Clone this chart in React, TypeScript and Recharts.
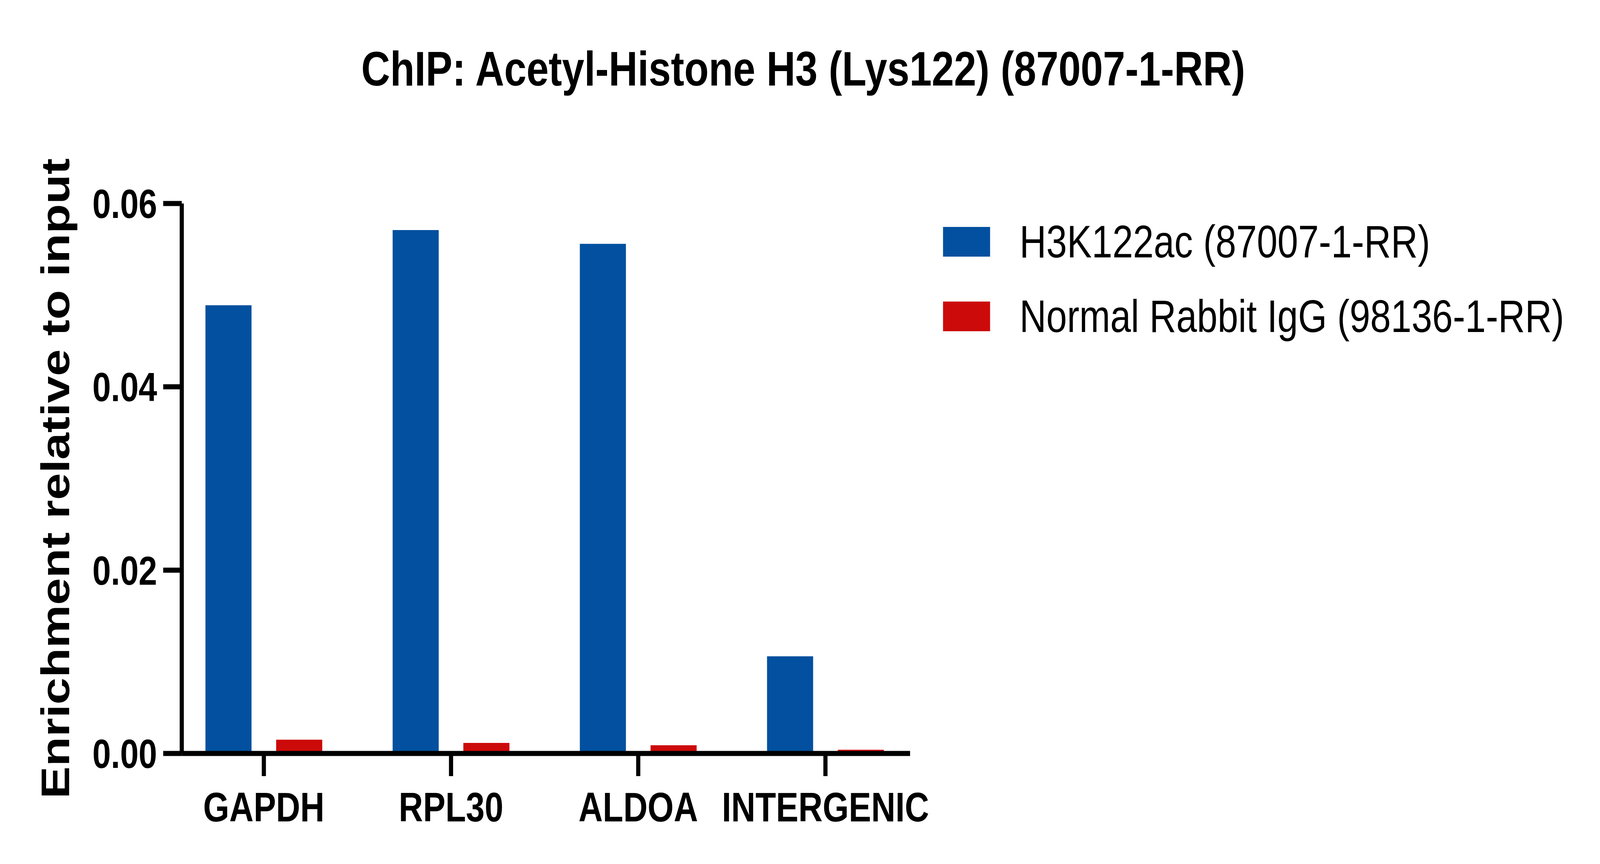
import React from 'react'
import { BarChart, Bar, XAxis, YAxis, Legend } from 'recharts'

const categories = ['GAPDH', 'RPL30', 'ALDOA', 'INTERGENIC']
const h3k122ac = [0.0489, 0.0571, 0.0556, 0.0106]
const normalIgg = [0.0015, 0.00115, 0.0009, 0.0004]
const yTicks = [0, 0.02, 0.04, 0.06]

const seriesNames = ['H3K122ac (87007-1-RR)', 'Normal Rabbit IgG (98136-1-RR)']
const BLUE = '#02509F'
const RED = '#CC0A0A'
const FONT = '"Liberation Sans", Arial, sans-serif'

const W = 5000
const H = 2212

const data = categories.map((c, i) => ({ name: c, a: h3k122ac[i], b: normalIgg[i] }))

const renderLegend = (props: any) => {
  const { payload } = props
  return (
    <div style={{ fontFamily: FONT }}>
      {payload.map((p: any) => (
        <div key={p.value} style={{ display: 'flex', alignItems: 'center', height: 191 }}>
          <span style={{ width: 147, height: 76, background: p.color, display: 'inline-block', marginRight: 92 }} />
          <span style={{ fontSize: 116, lineHeight: 1, color: '#000', whiteSpace: 'nowrap' }}>{p.value}</span>
        </div>
      ))}
    </div>
  )
}

export default function App() {
  // the browser window can be narrower than the figure, so fit it in
  const sx = Math.min(1, window.innerWidth / W)
  const sy = Math.min(1, window.innerHeight / H)

  return (
    <div style={{ position: 'fixed', left: 0, top: 0, right: 0, bottom: 0, overflow: 'hidden', background: '#fff' }}>
      <div
        style={{
          position: 'absolute', left: 0, top: 0, width: W, height: H,
          transform: `scale(${sx}, ${sy})`, transformOrigin: '0 0',
        }}
      >
        <div
          style={{
            position: 'absolute', top: 113, left: 0, width: 5020, textAlign: 'center',
            fontFamily: FONT, fontWeight: 'bold', fontSize: 125, lineHeight: 1, color: '#000',
          }}
        >
          ChIP: Acetyl-Histone H3 (Lys122) (87007-1-RR)
        </div>
        <BarChart
          width={W}
          height={H}
          data={data}
          margin={{ top: 521, right: 2156, bottom: 83, left: 0 }}
          barSize={144}
          barGap={77}
        >
          <XAxis
            dataKey="name"
            interval={0}
            height={200}
            padding={{ left: -36, right: -28 }}
            tickSize={58}
            tickMargin={41}
            axisLine={{ stroke: '#000', strokeWidth: 13 }}
            tickLine={{ stroke: '#000', strokeWidth: 13 }}
            tick={{ fontSize: 105, fontWeight: 'bold', fill: '#000', fontFamily: FONT }}
          />
          <YAxis
            width={568}
            domain={[0, 0.06]}
            ticks={yTicks}
            tickFormatter={(v: number) => v.toFixed(2)}
            tickSize={58}
            tickMargin={19}
            axisLine={{ stroke: '#000', strokeWidth: 13 }}
            tickLine={{ stroke: '#000', strokeWidth: 13 }}
            tick={{ fontSize: 104, fontWeight: 'bold', fill: '#000', fontFamily: FONT }}
            label={{
              value: 'Enrichment relative to input',
              angle: -90,
              position: 'insideLeft',
              offset: 172,
              style: { textAnchor: 'middle', fontSize: 124, fontWeight: 'bold', fill: '#000', fontFamily: FONT },
            }}
          />
          <Legend
            layout="vertical"
            align="center"
            verticalAlign="middle"
            wrapperStyle={{ left: 2947, top: 523, width: 2000 }}
            content={renderLegend}
          />
          <Bar dataKey="a" name={seriesNames[0]} fill={BLUE} isAnimationActive={false} />
          <Bar dataKey="b" name={seriesNames[1]} fill={RED} isAnimationActive={false} />
        </BarChart>
      </div>
    </div>
  )
}
